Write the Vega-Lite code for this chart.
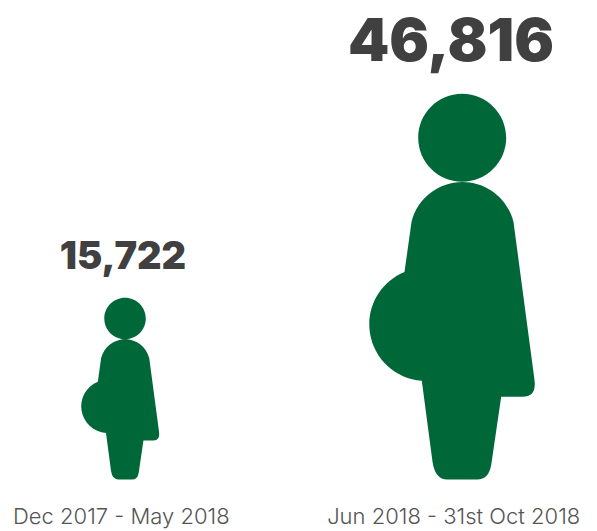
{
"$schema":"https://vega.github.io/schema/vega-lite/v6.json",
"width":597,"height":495,"padding":{"left":0,"top":0,"right":0,"bottom":36},"autosize":{"type":"none"},
"background":"white",
"view":{"stroke":null},
"data":{"values":[
{"period":"Dec 2017 - May 2018","pregnancies":15722},
{"period":"Jun 2018 - 31st Oct 2018","pregnancies":46816}]},
"layer":[
{"mark":{"type":"point","filled":true,"opacity":1,"color":"#006838","strokeWidth":0,
"shape":"M-0.35 -3.417A0.44 0.44 0 1 1 0.53 -3.417A0.44 0.44 0 1 1 -0.35 -3.417ZM-0.417 -2.575A0.525 0.525 0 0 1 0.603 -2.575L0.813 -0.995Q0.835 -0.828 0.693 -0.828L0.48 -0.828L0.38 -0.145Q0.355 0 0.24 0L-0.06 0Q-0.18 0 -0.207 -0.178L-0.314 -0.988A0.565 0.565 0 0 1 -0.487 -2.075Z"},
"encoding":{
"x":{"field":"period","type":"nominal","sort":null,"title":null,
"scale":{"type":"point","domain":["Dec 2017 - May 2018","Jun 2018 - 31st Oct 2018"],"range":[120.8,453.2],"padding":0},
"axis":{"domain":false,"ticks":false,"grid":false,"labelAngle":0,"labelFont":"Inter","labelFontWeight":300,"labelFontSize":22,"labelColor":"#555555","labelPadding":11,"labelLimit":400,"labelOverlap":false,"labelBaseline":"top"}},
"y":{"datum":0,"type":"quantitative","scale":{"domain":[0,1],"range":[479.5,0]},"axis":null},
"size":{"field":"pregnancies","type":"quantitative","scale":{"domain":[15722,46816],"range":[8893,40000]},"legend":null}}},
{"mark":{"type":"text","font":"Inter","fontWeight":900,"color":"#404040","baseline":"alphabetic","align":"center"},
"encoding":{
"x":{"field":"period","type":"nominal","sort":null,"title":null,
"scale":{"type":"point","domain":["Dec 2017 - May 2018","Jun 2018 - 31st Oct 2018"],"range":[123,451],"padding":0},"axis":null},
"y":{"field":"pregnancies","type":"quantitative","scale":{"domain":[15722,46816],"range":[268.5,61]},"axis":null},
"text":{"field":"pregnancies","type":"quantitative","format":",d"},
"size":{"field":"pregnancies","type":"quantitative","scale":{"domain":[15722,46816],"range":[38,59]},"legend":null}}}
],
"resolve":{"scale":{"x":"independent","y":"independent","size":"independent"}}
}
